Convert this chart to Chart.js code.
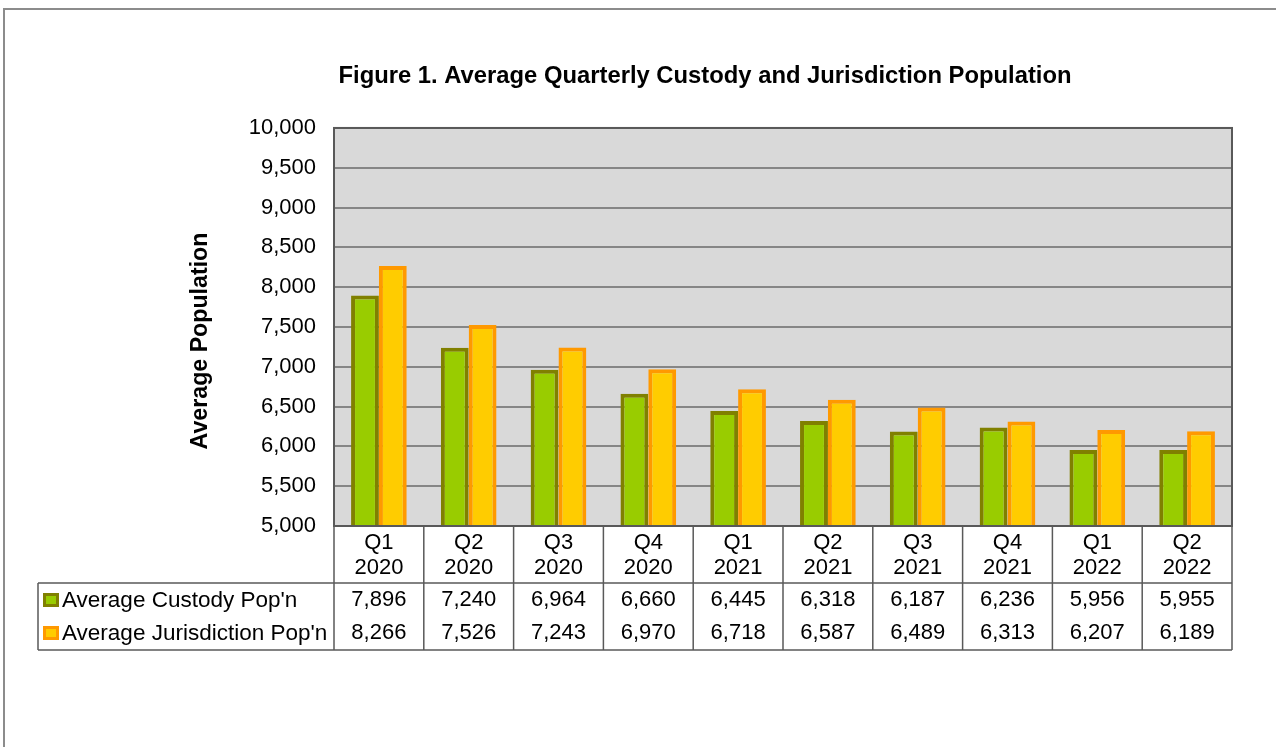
<!DOCTYPE html>
<html><head><meta charset="utf-8">
<script src="https://cdn.jsdelivr.net/npm/chart.js@4"></script>
<style>html,body{margin:0;padding:0;background:#fff;} canvas{display:block;}</style>
</head><body>
<canvas id="c" width="1276" height="747"></canvas>
<script>
const categories = [['Q1','2020'],['Q2','2020'],['Q3','2020'],['Q4','2020'],['Q1','2021'],['Q2','2021'],['Q3','2021'],['Q4','2021'],['Q1','2022'],['Q2','2022']];
const custody = [7896, 7240, 6964, 6660, 6445, 6318, 6187, 6236, 5956, 5955];
const jurisdiction = [8266, 7526, 7243, 6970, 6718, 6587, 6489, 6313, 6207, 6189];
const seriesNames = ["Average Custody Pop'n", "Average Jurisdiction Pop'n"];
const yMin = 5000, yMax = 10000, yStep = 500;
const chartTitle = 'Figure 1. Average Quarterly Custody and Jurisdiction Population';
const yTitle = 'Average Population';

const FONT = '"Liberation Sans", Arial, sans-serif';
const fills = ['#99CC00', '#FFCC00'];
const borders = ['#808000', '#FF9900'];
const fmt = v => Number(v).toLocaleString('en-US');

const tablePlugin = {
  id: 'tbl',
  beforeDraw(chart) {
    const {ctx, chartArea: a} = chart;
    ctx.save();
    ctx.fillStyle = '#fff'; ctx.fillRect(0, 0, chart.width, chart.height);
    ctx.strokeStyle = '#8c8c8c'; ctx.lineWidth = 2;
    ctx.beginPath(); ctx.moveTo(4, chart.height + 5); ctx.lineTo(4, 9); ctx.lineTo(chart.width + 5, 9); ctx.stroke();
    ctx.fillStyle = '#d9d9d9'; ctx.fillRect(a.left, a.top, a.width, a.height);
    ctx.restore();
  },
  afterDraw(chart) {
    const {ctx, chartArea: a} = chart;
    const xs = chart.scales.x;
    const n = categories.length;
    const catW = a.width / n;
    const r1 = 583, bot = 650, legLeft = 38;
    ctx.save();
    const line = (x1, y1, x2, y2) => { ctx.beginPath(); ctx.moveTo(x1, y1); ctx.lineTo(x2, y2); ctx.stroke(); };
    // plot border
    ctx.strokeStyle = '#595959'; ctx.lineWidth = 2;
    ctx.strokeRect(a.left, a.top, a.width, a.height);
    // table lines
    ctx.strokeStyle = '#595959'; ctx.lineWidth = 1.5;
    line(legLeft, r1, a.right, r1);
    line(legLeft, bot, a.right, bot);
    line(legLeft, r1, legLeft, bot);
    for (let i = 0; i <= n; i++) {
      const xx = i < n ? xs.getPixelForValue(i) - catW / 2 : xs.getPixelForValue(n - 1) + catW / 2;
      line(xx, a.bottom, xx, bot);
    }
    // header and values
    ctx.fillStyle = '#000';
    ctx.textAlign = 'center'; ctx.textBaseline = 'middle';
    ctx.font = '22px ' + FONT;
    const rows = [custody, jurisdiction];
    const rowY = [600, 633];
    for (let i = 0; i < n; i++) {
      const cx = xs.getPixelForValue(i);
      ctx.fillText(categories[i][0], cx, 543);
      ctx.fillText(categories[i][1], cx, 568);
      rows.forEach((r, k) => ctx.fillText(fmt(r[i]), cx, rowY[k]));
    }
    // legend keys and names
    ctx.textAlign = 'left';
    ctx.font = '22.5px ' + FONT;
    rows.forEach((r, k) => {
      const y = rowY[k];
      ctx.fillStyle = borders[k]; ctx.fillRect(43, y - 7, 16, 14);
      ctx.fillStyle = fills[k]; ctx.fillRect(46, y - 4, 10, 8);
      ctx.fillStyle = '#000';
      ctx.fillText(seriesNames[k], 62, y + 1);
    });
    // y axis title
    ctx.save();
    ctx.translate(201, 341);
    ctx.rotate(-Math.PI / 2);
    ctx.textAlign = 'center';
    ctx.font = 'bold 23.2px ' + FONT;
    ctx.fillText(yTitle, 0, 0);
    ctx.restore();
    ctx.restore();
  }
};

new Chart(document.getElementById('c'), {
  type: 'bar',
  data: {
    labels: categories,
    datasets: [
      { label: seriesNames[0], data: custody, backgroundColor: fills[0], borderColor: borders[0], borderWidth: 4, borderSkipped: false },
      { label: seriesNames[1], data: jurisdiction, backgroundColor: fills[1], borderColor: borders[1], borderWidth: 4, borderSkipped: false }
    ]
  },
  options: {
    responsive: false,
    animation: false,
    devicePixelRatio: 1,
    categoryPercentage: 0.62,
    barPercentage: 1.0,
    layout: { padding: { left: 178, right: 44, top: 0, bottom: 221 } },
    plugins: {
      legend: { display: false },
      tooltip: { enabled: false },
      title: {
        display: true, text: chartTitle, color: '#000',
        font: { family: FONT, size: 23.8, weight: 'bold', lineHeight: 1.2 },
        padding: { top: 61.7, bottom: 37.7 }
      }
    },
    scales: {
      x: { display: false },
      y: {
        min: yMin, max: yMax,
        ticks: { stepSize: yStep, color: '#000', padding: 18, font: { family: FONT, size: 22 }, callback: v => fmt(v) },
        grid: { color: '#868686', lineWidth: 2, drawTicks: false },
        border: { display: true, color: '#595959', width: 2 },
        afterFit(scale) { scale.width = 156; }
      }
    }
  },
  plugins: [tablePlugin]
});
</script>
</body></html>
